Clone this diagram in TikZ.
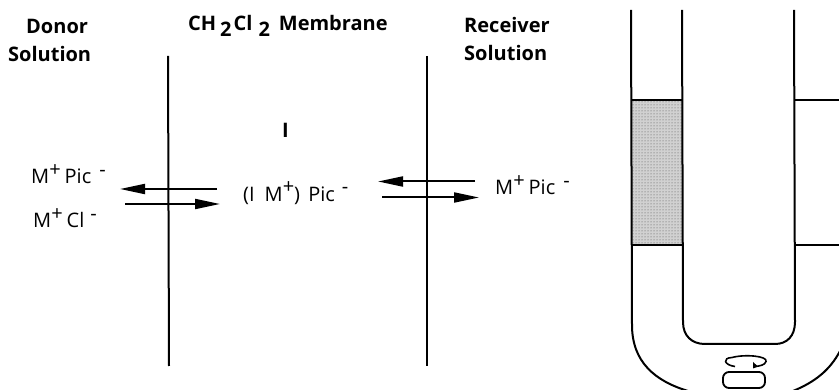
\documentclass[tikz,border=0pt]{standalone}
\usepackage{fontspec}
\setmainfont{Open Sans}
\usetikzlibrary{arrows.meta,patterns}
\newcommand{\upmark}[1]{\raisebox{0.38em}{#1}}
\newcommand{\downmark}[1]{\raisebox{-0.28em}{#1}}
\tikzset{
  head/.style={font=\fontsize{20}{24}\selectfont\bfseries,align=left,inner sep=0,anchor=west},
  species/.style={font=\fontsize{20}{24}\selectfont,inner sep=0,anchor=west},
  wall/.style={line width=2pt,black},
  vessel/.style={line width=2pt,black},
  flow/.style={line width=2pt,black,-{Triangle[length=25pt,width=10pt]}}
}
\begin{document}
\begin{tikzpicture}[x=1pt,y=-1pt]
\useasboundingbox (0,0) rectangle (839,390);
% text
\node[head] (donor) at (26,26) {Donor};
\node[head] (dsol) at (8,54) {Solution};
\node[head] (memb) at (188,26) {CH\kern4pt\downmark{2}\kern2pt Cl\kern6pt\downmark{2}\kern9pt Membrane};
\node[head] (rec) at (464,25) {Receiver};
\node[head] (rsol) at (464,53) {Solution};
\node[species,font=\fontsize{20}{24}\selectfont\bfseries] (carrier) at (282,130) {I};
\node[species] (dp) at (31,174) {M\upmark{+}\kern4pt Pic\kern8pt\upmark{-}};
\node[species] (dc) at (33,218) {M\upmark{+}\kern4pt Cl\kern6pt\upmark{-}};
\node[species] (cx) at (243,193) {(I\kern10pt M\upmark{+}) \kern3pt Pic\kern7pt\upmark{-}};
\node[species] (rp) at (495,185) {M\upmark{+}\kern4pt Pic\kern8pt\upmark{-}};
% membranes
\coordinate (m1t) at (168,56); \coordinate (m1b) at (169,366);
\coordinate (m2t) at (427,56); \coordinate (m2b) at (427,366);
\draw[wall] (m1t) -- (m1b);
\draw[wall] (m2t) -- (m2b);
% arrows
\coordinate (a1s) at (217,189); \coordinate (a1e) at (120,189);
\coordinate (a2s) at (125,204); \coordinate (a2e) at (220,204);
\coordinate (a3s) at (475,181.5); \coordinate (a3e) at (378,181.5);
\coordinate (a4s) at (382,197.5); \coordinate (a4e) at (479,197.5);
\draw[flow] (a1s) -- (a1e);
\draw[flow] (a2s) -- (a2e);
\draw[flow] (a3s) -- (a3e);
\draw[flow] (a4s) -- (a4e);
% apparatus
\fill[black!18] (632,100) rectangle (682,245);
\fill[pattern=dots,pattern color=black!70] (632,100) rectangle (682,245);
\draw[vessel] (631,10) -- (632,325) .. controls (632,362) and (655,381) .. (688,391);
\draw[vessel] (682,10) -- (683,322) .. controls (683,336) and (692,344) .. (705,344) -- (775,344) .. controls (787,344) and (795,336) .. (795,322) -- (794,10);
\draw[vessel] (840,351) .. controls (830,370) and (815,382) .. (793,391);
\draw[vessel] (632,100) -- (682,100);
\draw[vessel] (632,245) -- (682,245);
\draw[vessel] (795,100) -- (839,100);
\draw[vessel] (795,245) -- (839,245);
% stirrer
\draw[line width=1.8pt,rounded corners=6pt] (723,372) rectangle (765,388);
\draw[line width=1.6pt] (735,366.5) .. controls (724,365) and (722,358) .. (732,357.5) .. controls (745,354) and (768,356) .. (766,361.5) .. controls (765,365) and (760,366) .. (755,366.5);
\fill (753,362) -- (758,366.5) -- (753,368.5) -- cycle;
\end{tikzpicture}
\end{document}
